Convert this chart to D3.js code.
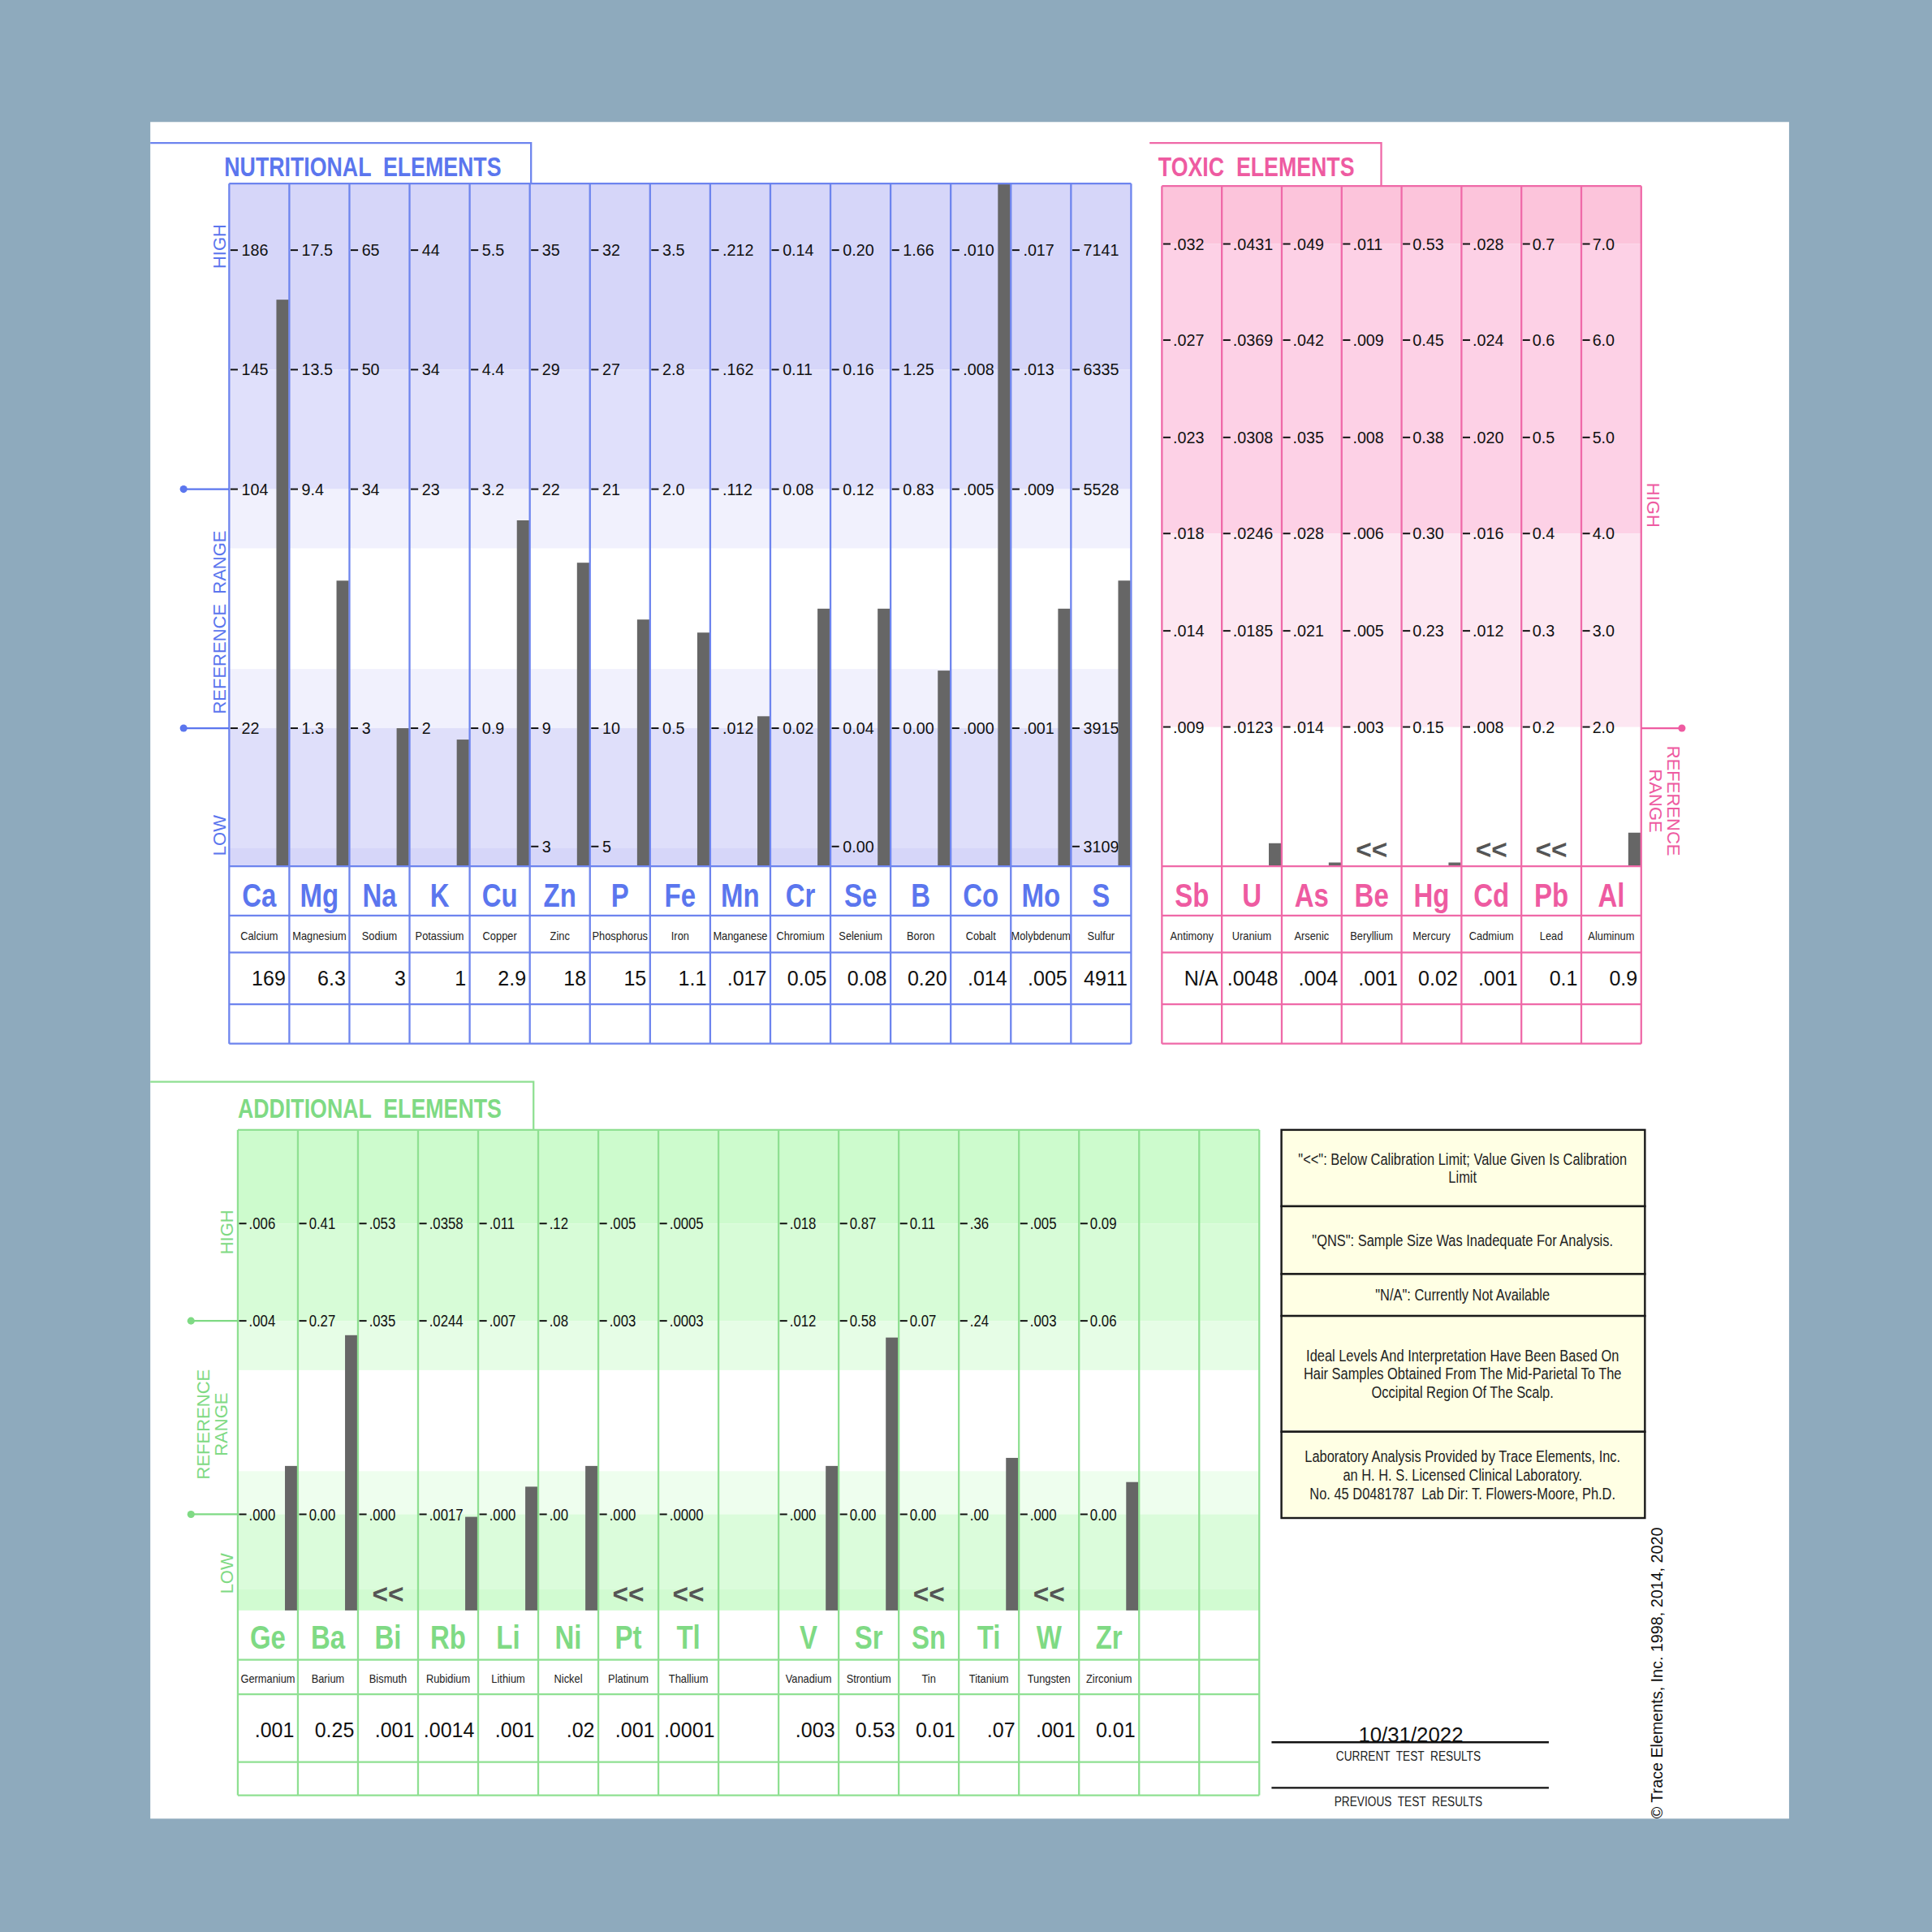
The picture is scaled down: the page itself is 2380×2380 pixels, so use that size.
<!DOCTYPE html>
<html>
<head>
<meta charset="utf-8">
<script src="https://cdn.jsdelivr.net/npm/d3@7"></script>
<style>
  html, body { margin: 0; padding: 0; background: #8eaabd; }
  svg { display: block; }
  text { font-family: "Liberation Sans", Arial, sans-serif; }
</style>
</head>
<body>
<svg id="chart"></svg>
<script>
// ---- nutritional elements ----
const nutSymbols = ['Ca', 'Mg', 'Na', 'K', 'Cu', 'Zn', 'P', 'Fe', 'Mn', 'Cr', 'Se', 'B', 'Co', 'Mo', 'S'];
const nutNames = ['Calcium', 'Magnesium', 'Sodium', 'Potassium', 'Copper', 'Zinc', 'Phosphorus', 'Iron',
  'Manganese', 'Chromium', 'Selenium', 'Boron', 'Cobalt', 'Molybdenum', 'Sulfur'];
const nutValues = ['169', '6.3', '3', '1', '2.9', '18', '15', '1.1', '.017', '0.05', '0.08', '0.20', '.014', '.005', '4911'];
const nutHigh = ['186', '17.5', '65', '44', '5.5', '35', '32', '3.5', '.212', '0.14', '0.20', '1.66', '.010', '.017', '7141'];
const nutMid = ['145', '13.5', '50', '34', '4.4', '29', '27', '2.8', '.162', '0.11', '0.16', '1.25', '.008', '.013', '6335'];
const nutRefHigh = ['104', '9.4', '34', '23', '3.2', '22', '21', '2.0', '.112', '0.08', '0.12', '0.83', '.005', '.009', '5528'];
const nutRefLow = ['22', '1.3', '3', '2', '0.9', '9', '10', '0.5', '.012', '0.02', '0.04', '0.00', '.000', '.001', '3915'];
const nutLow = ['', '', '', '', '', '3', '5', '', '', '', '0.00', '', '', '', '3109'];

// ---- toxic elements ----
const toxSymbols = ['Sb', 'U', 'As', 'Be', 'Hg', 'Cd', 'Pb', 'Al'];
const toxNames = ['Antimony', 'Uranium', 'Arsenic', 'Beryllium', 'Mercury', 'Cadmium', 'Lead', 'Aluminum'];
const toxValues = ['N/A', '.0048', '.004', '.001', '0.02', '.001', '0.1', '0.9'];
const toxBelow = [false, false, false, true, false, true, true, false];
const toxTick1 = ['.032', '.0431', '.049', '.011', '0.53', '.028', '0.7', '7.0'];
const toxTick2 = ['.027', '.0369', '.042', '.009', '0.45', '.024', '0.6', '6.0'];
const toxTick3 = ['.023', '.0308', '.035', '.008', '0.38', '.020', '0.5', '5.0'];
const toxTick4 = ['.018', '.0246', '.028', '.006', '0.30', '.016', '0.4', '4.0'];
const toxTick5 = ['.014', '.0185', '.021', '.005', '0.23', '.012', '0.3', '3.0'];
const toxTick6 = ['.009', '.0123', '.014', '.003', '0.15', '.008', '0.2', '2.0'];

// ---- additional elements ----
const addSymbols = ['Ge', 'Ba', 'Bi', 'Rb', 'Li', 'Ni', 'Pt', 'Tl', '', 'V', 'Sr', 'Sn', 'Ti', 'W', 'Zr', '', ''];
const addNames = ['Germanium', 'Barium', 'Bismuth', 'Rubidium', 'Lithium', 'Nickel', 'Platinum', 'Thallium', '',
  'Vanadium', 'Strontium', 'Tin', 'Titanium', 'Tungsten', 'Zirconium', '', ''];
const addValues = ['.001', '0.25', '.001', '.0014', '.001', '.02', '.001', '.0001', '', '.003', '0.53', '0.01', '.07', '.001', '0.01', '', ''];
const addBelow = [false, false, true, false, false, false, true, true, false, false, false, true, false, true, false, false, false];
const addHigh = ['.006', '0.41', '.053', '.0358', '.011', '.12', '.005', '.0005', '', '.018', '0.87', '0.11', '.36', '.005', '0.09', '', ''];
const addRefHigh = ['.004', '0.27', '.035', '.0244', '.007', '.08', '.003', '.0003', '', '.012', '0.58', '0.07', '.24', '.003', '0.06', '', ''];
const addRefLow = ['.000', '0.00', '.000', '.0017', '.000', '.00', '.000', '.0000', '', '.000', '0.00', '0.00', '.00', '.000', '0.00', '', ''];

const legendLines = [
  ['"<<": Below Calibration Limit; Value Given Is Calibration', 'Limit'],
  ['"QNS": Sample Size Was Inadequate For Analysis.'],
  ['"N/A": Currently Not Available'],
  ['Ideal Levels And Interpretation Have Been Based On', 'Hair Samples Obtained From The Mid-Parietal To The', 'Occipital Region Of The Scalp.'],
  ['Laboratory Analysis Provided by Trace Elements, Inc.', 'an H. H. S. Licensed Clinical Laboratory.', 'No. 45 D0481787  Lab Dir: T. Flowers-Moore, Ph.D.']
];
const testDate = '10/31/2022';

const NARROW = 0.82;   // no Arial Narrow available, squeeze the regular face

const svg = d3.select('#chart')
  .attr('width', 2380).attr('height', 2380)
  .attr('viewBox', '0 0 1568 1568');

svg.append('rect').attr('width', 1568).attr('height', 1568).attr('fill', '#8eaabd');
svg.append('rect').attr('x', 122).attr('y', 99).attr('width', 1330).attr('height', 1377).attr('fill', '#fff');

const squeeze = (x, y, s) => `translate(${x},${y}) scale(${s},1)`;

function drawPanel(p) {
  const g = svg.append('g');
  const n = p.symbols.length;
  const x = d3.scaleBand().domain(d3.range(n)).range([p.x0, p.x1]);
  const w = x.bandwidth();

  g.selectAll('rect.band')
    .data(p.bands)
    .join('rect')
    .attr('class', 'band')
    .attr('x', p.x0).attr('width', p.x1 - p.x0)
    .attr('y', d => d[0]).attr('height', d => d[1] - d[0])
    .attr('fill', d => d[2]);

  // tick marks + labels
  const ticks = [];
  p.levels.forEach(lv => {
    lv.labels.forEach((t, i) => { if (t !== '') ticks.push({ i, t, y: lv.y }); });
  });
  g.selectAll('line.tick')
    .data(ticks)
    .join('line')
    .attr('x1', d => x(d.i) + 1).attr('x2', d => x(d.i) + 7)
    .attr('y1', d => d.y).attr('y2', d => d.y)
    .attr('stroke', '#111').attr('stroke-width', 1.3);
  g.selectAll('text.tick')
    .data(ticks)
    .join('text')
    .attr('transform', d => squeeze(x(d.i) + p.tickPad, d.y, p.tickScale))
    .attr('dy', '0.36em')
    .attr('font-size', p.tickSize)
    .attr('fill', '#111')
    .text(d => d.t);

  // result bars
  const bars = p.values
    .map((v, i) => ({ i, v: parseFloat(v), below: p.below[i] }))
    .filter(d => !isNaN(d.v) && !d.below);
  const barTop = d => Math.max(p.top, Math.min(p.bottom - p.minBar, p.yScale(d.i)(d.v)));
  g.selectAll('rect.bar')
    .data(bars)
    .join('rect')
    .attr('x', d => x(d.i) + w - 10.5)
    .attr('width', 10)
    .attr('y', barTop)
    .attr('height', d => p.bottom - barTop(d))
    .attr('fill', '#666');

  g.selectAll('text.below')
    .data(p.below.map((b, i) => ({ b, i })).filter(d => d.b))
    .join('text')
    .attr('x', d => x(d.i) + w / 2)
    .attr('y', p.bottom - 6)
    .attr('text-anchor', 'middle')
    .attr('font-size', 22)
    .attr('font-weight', 'bold')
    .attr('fill', '#555')
    .text('<<');

  // symbol / name / value rows
  g.selectAll('text.sym')
    .data(p.symbols)
    .join('text')
    .attr('transform', (d, i) => squeeze(x(i) + w / 2, p.symY, NARROW))
    .attr('text-anchor', 'middle')
    .attr('font-size', 26.5)
    .attr('font-weight', 'bold')
    .attr('fill', p.color)
    .text(d => d);
  g.selectAll('text.name')
    .data(p.names)
    .join('text')
    .attr('transform', (d, i) => squeeze(x(i) + w / 2, p.nameY, 0.92))
    .attr('text-anchor', 'middle')
    .attr('font-size', 9.2)
    .attr('fill', '#222')
    .text(d => d);
  g.selectAll('text.val')
    .data(p.values)
    .join('text')
    .attr('x', (d, i) => x(i) + w - 3)
    .attr('y', p.valY)
    .attr('text-anchor', 'end')
    .attr('font-size', 16.5)
    .attr('fill', '#111')
    .text(d => d);

  // grid
  const grid = g.append('g').attr('stroke', p.gridColor).attr('stroke-width', 1.5).attr('fill', 'none');
  d3.range(n + 1).forEach(k => {
    const xx = p.x0 + k * w;
    grid.append('line').attr('x1', xx).attr('x2', xx).attr('y1', p.top).attr('y2', p.rows[p.rows.length - 1]);
  });
  [p.top].concat(p.rows).forEach(yy => {
    grid.append('line').attr('x1', p.x0).attr('x2', p.x1).attr('y1', yy).attr('y2', yy);
  });
  grid.append('path').attr('d', `M${p.header[0]},${p.header[2]}H${p.header[1]}V${p.top}`);

  svg.append('text')
    .attr('transform', squeeze(p.titleX, p.titleY, NARROW))
    .attr('font-size', 21.5)
    .attr('font-weight', 'bold')
    .attr('fill', p.color)
    .style('white-space', 'pre')
    .text(p.title);
}

// vertical side labels
function sideLabel(x, y, lines, color, angle, size) {
  const t = svg.append('text')
    .attr('transform', `translate(${x},${y}) rotate(${angle})`)
    .attr('text-anchor', 'middle')
    .attr('font-size', size)
    .attr('fill', color)
    .style('white-space', 'pre');
  lines.forEach((s, k) => {
    t.append('tspan').attr('x', 0).attr('dy', k === 0 ? 0 : size * 1.0).text(s);
  });
}
function refDot(x0, x1, y, color) {
  svg.append('line').attr('x1', x0).attr('x2', x1).attr('y1', y).attr('y2', y)
    .attr('stroke', color).attr('stroke-width', 1.5);
  svg.append('circle').attr('cx', x0).attr('cy', y).attr('r', 3).attr('fill', color);
}

// nutritional
const BLUE = '#5b76ee';
const nutLevelsY = [203, 300, 397, 591, 687];
drawPanel({
  symbols: nutSymbols, names: nutNames, values: nutValues,
  below: nutSymbols.map(() => false),
  x0: 186, x1: 918, top: 149, bottom: 703, rows: [703, 743, 773, 815, 847],
  symY: 736, nameY: 763, valY: 800,
  bands: [[149, 300, '#d6d6f9'], [300, 397, '#e0e0fb'], [397, 445, '#f1f1fd'],
    [543, 591, '#f1f1fd'], [591, 688, '#dfdffa'], [688, 703, '#d6d6f9']],
  levels: [nutHigh, nutMid, nutRefHigh, nutRefLow, nutLow].map((labels, k) => ({ y: nutLevelsY[k], labels })),
  yScale: i => {
    const dom = [nutRefLow[i], nutRefHigh[i], nutMid[i], nutHigh[i]].map(Number);
    const rng = [591, 397, 300, 203];
    if (nutLow[i] !== '') { dom.unshift(+nutLow[i]); rng.unshift(687); }
    return d3.scaleLinear().domain(dom).range(rng);
  },
  minBar: 0, tickSize: 13, tickPad: 10, tickScale: 1,
  color: BLUE, gridColor: '#6d84ee',
  header: [122, 431, 116], title: 'NUTRITIONAL  ELEMENTS', titleX: 182, titleY: 143
});
sideLabel(183, 200, ['HIGH'], BLUE, -90, 14.5);
sideLabel(183, 505, ['REFERENCE  RANGE'], BLUE, -90, 14.5);
sideLabel(183, 678, ['LOW'], BLUE, -90, 14.5);
refDot(149, 186, 397, BLUE);
refDot(149, 186, 591, BLUE);

// toxic
const PINK = '#ee5ba1';
const toxLevelsY = [198, 276, 355, 433, 512, 590];
const toxTicks = [toxTick1, toxTick2, toxTick3, toxTick4, toxTick5, toxTick6];
drawPanel({
  symbols: toxSymbols, names: toxNames, values: toxValues, below: toxBelow,
  x0: 943, x1: 1332, top: 151, bottom: 703, rows: [703, 743, 773, 815, 847],
  symY: 736, nameY: 763, valY: 800,
  bands: [[151, 198, '#fcc4db'], [198, 433, '#fdd1e6'], [433, 590, '#fde7f2']],
  levels: toxTicks.map((labels, k) => ({ y: toxLevelsY[k], labels })),
  yScale: i => d3.scaleLinear()
    .domain(toxTicks.map(t => +t[i]).reverse())
    .range(toxLevelsY.slice().reverse()),
  minBar: 3, tickSize: 13, tickPad: 9, tickScale: 1,
  color: PINK, gridColor: '#ef69a8',
  header: [933, 1121, 116], title: 'TOXIC  ELEMENTS', titleX: 940, titleY: 143
});
sideLabel(1337, 410, ['HIGH'], PINK, 90, 14.5);
sideLabel(1353, 650, ['REFERENCE', 'RANGE'], PINK, 90, 14.5);
refDot(1365, 1332, 591, PINK);

// additional
const GREEN = '#7fda84';
const addLevelsY = [993, 1072, 1229];
drawPanel({
  symbols: addSymbols, names: addNames, values: addValues, below: addBelow,
  x0: 193, x1: 1022, top: 917, bottom: 1307, rows: [1347, 1375, 1430, 1457],
  symY: 1338, nameY: 1366, valY: 1410,
  bands: [[917, 993, '#cdfbcd'], [993, 1072, '#d7fcd7'], [1072, 1112, '#e6fde6'],
    [1194, 1229, '#eefeee'], [1229, 1290, '#dbfcdb'], [1290, 1307, '#d1fbd1']],
  levels: [addHigh, addRefHigh, addRefLow].map((labels, k) => ({ y: addLevelsY[k], labels })),
  yScale: i => d3.scaleLinear()
    .domain([addRefLow[i], addRefHigh[i], addHigh[i]].map(Number))
    .range([1229, 1072, 993]),
  minBar: 0, tickSize: 13, tickPad: 9, tickScale: 0.85,
  color: GREEN, gridColor: '#8fe092',
  header: [122, 433, 878], title: 'ADDITIONAL  ELEMENTS', titleX: 193, titleY: 907
});
sideLabel(189, 1000, ['HIGH'], GREEN, -90, 14.5);
sideLabel(170, 1156, ['REFERENCE', 'RANGE'], GREEN, -90, 14.5);
sideLabel(189, 1277, ['LOW'], GREEN, -90, 14.5);
refDot(155, 193, 1072, GREEN);
refDot(155, 193, 1229, GREEN);

// legend boxes
const legendEdges = [917, 979, 1034, 1068, 1162, 1232];
const lg = svg.append('g');
legendLines.forEach((lines, k) => {
  const y0 = legendEdges[k], y1 = legendEdges[k + 1];
  lg.append('rect').attr('x', 1040).attr('y', y0).attr('width', 295).attr('height', y1 - y0)
    .attr('fill', '#ffffe4').attr('stroke', '#1a1a1a').attr('stroke-width', 1.6);
  const mid = (y0 + y1) / 2;
  lines.forEach((s, j) => {
    lg.append('text')
      .attr('transform', squeeze(1187, mid + (j - (lines.length - 1) / 2) * 15, NARROW))
      .attr('dy', '0.35em')
      .attr('text-anchor', 'middle')
      .attr('font-size', 13.2)
      .attr('fill', '#222')
      .style('white-space', 'pre')
      .text(s);
  });
});

// test result lines
svg.append('text').attr('x', 1145).attr('y', 1414).attr('text-anchor', 'middle')
  .attr('font-size', 17).attr('fill', '#111').text(testDate);
[[1414, 'CURRENT  TEST  RESULTS', 1429], [1451, 'PREVIOUS  TEST  RESULTS', 1466]].forEach(([y, label, ty]) => {
  svg.append('line').attr('x1', 1032).attr('x2', 1257).attr('y1', y).attr('y2', y)
    .attr('stroke', '#111').attr('stroke-width', 1.5);
  svg.append('text').attr('transform', squeeze(1143, ty, NARROW)).attr('text-anchor', 'middle')
    .attr('font-size', 11).attr('fill', '#222').style('white-space', 'pre').text(label);
});

svg.append('text')
  .attr('transform', 'translate(1349,1476) rotate(-90)')
  .attr('font-size', 13)
  .attr('fill', '#111')
  .text('© Trace Elements, Inc. 1998, 2014, 2020');
</script>
</body>
</html>
